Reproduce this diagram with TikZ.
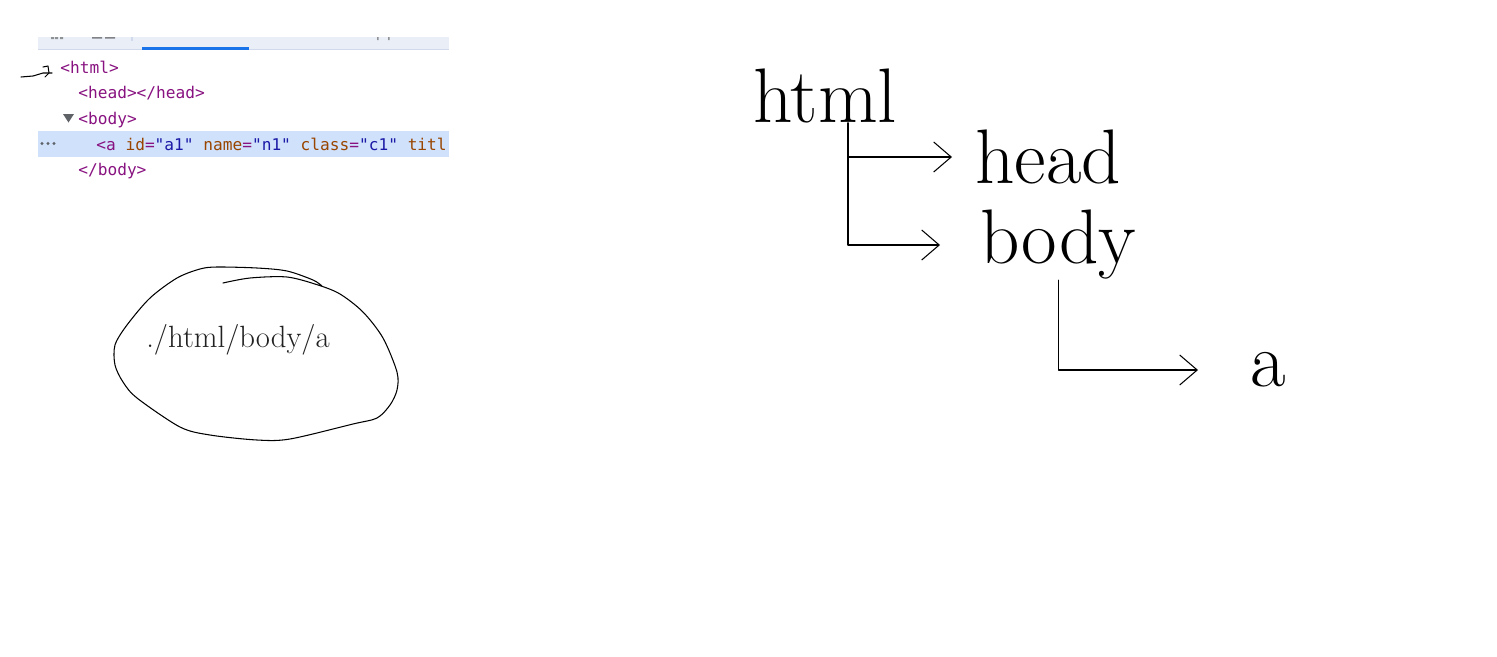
\documentclass[tikz,border=0pt]{standalone}
\usepackage{fontspec}
\setmonofont{DejaVu Sans Mono}
\usepackage{tikz}
\usetikzlibrary{arrows.meta,positioning,calc}
\definecolor{tagc}{RGB}{136,18,128}
\definecolor{attrn}{RGB}{153,69,0}
\definecolor{attrv}{RGB}{26,26,166}
\definecolor{barc}{RGB}{234,238,246}
\definecolor{linec}{RGB}{208,218,236}
\definecolor{rowc}{RGB}{207,225,251}
\definecolor{tabc}{RGB}{26,115,232}
\definecolor{iconc}{RGB}{95,99,104}

\begin{document}
\begin{tikzpicture}[
  x=0.02cm, y=-0.02cm,
  code/.style={font=\fontsize{9.2}{11}\ttfamily, text=tagc, inner sep=0pt, anchor=base west},
  word/.style={font=\fontsize{44}{50}\selectfont, inner sep=0pt},
  pen/.style={line width=0.6pt, line join=round, line cap=round},
  arr/.style={pen, -{Straight Barb[length=3.5mm, width=6mm]}},
]
\useasboundingbox (0,0) rectangle (1497,656);
\begin{scope}
\clip (38,0) rectangle (449,656);
\fill[barc] (38,37) rectangle (449,49);
\draw[linec] (38,49) -- (449,49);
\fill[tabc] (142,47) rectangle (249,49.5);
\fill[iconc!70] (51,37) rectangle (54,39) (55,37) rectangle (58,39) (60,37) rectangle (63,39);
\fill[iconc!80] (92,37) rectangle (102,38.5) (105,37) rectangle (115,38.5);
\fill[linec] (131,37) rectangle (132.5,41);
\fill[iconc!70] (377,37) rectangle (378.5,40) (388,37) rectangle (389.5,40);
\fill[rowc] (38,131) rectangle (449,157);
\node[code] (l1) at (60,73.5) {<html>};
\node[code] (l2) at (78,98) {<head></head>};
\fill[iconc] (63,114) -- (74,114) -- (68.5,122.5) -- cycle;
\node[code] (l3) at (78,124) {<body>};
\foreach \x in {42,48,54} \fill[iconc] (\x,143.5) circle (0.9pt);
\node[code] (l4) at (96,150) {<a \textcolor{attrn}{id}=\textcolor{attrv}{"a1"} \textcolor{attrn}{name}=\textcolor{attrv}{"n1"} \textcolor{attrn}{class}=\textcolor{attrv}{"c1"} \textcolor{attrn}{titl}};
\node[code] (l5) at (78,175.5) {</body>};
\end{scope}
\draw[pen] (21,77) -- (33,76) -- (43,73) -- (52,73);
\draw[pen] (43,67) -- (48,66) -- (49,73) -- (45,77);

\node[font=\fontsize{17.5}{21}\selectfont, text=black!87, inner sep=0pt] (xpath) at (238,340) {./html/body/a};
\draw[pen, tension=0.5] plot[smooth] coordinates {(223,283) (250,278) (287,277) (318,285) (340,294) (363,312) (383,338) (397,372) (397,390) (390,405) (377,418) (353,424) (290,439) (257,440) (210,435) (180,427) (137,398) (123,382) (115,365) (115,345) (127,325) (150,298) (177,278) (200,269) (217,267) (257,268) (287,271) (313,280) (322,286)};

\node[word, anchor=base] (html) at (825,122) {html};
\node[word, anchor=west] (head) at (975,157) {head};
\node[word, anchor=west] (body) at (980,245) {body};
\node[word, anchor=west] (a) at (1250,370) {a};
\coordinate (fork) at ([xshift=0.46cm]html.south);
\draw[arr, shorten >=0.46cm] (fork) |- (head);
\draw[arr, shorten >=0.8cm] (fork) |- (body);
\draw[arr, shorten >=1.04cm] (body.south) |- (a);
\end{tikzpicture}
\end{document}
